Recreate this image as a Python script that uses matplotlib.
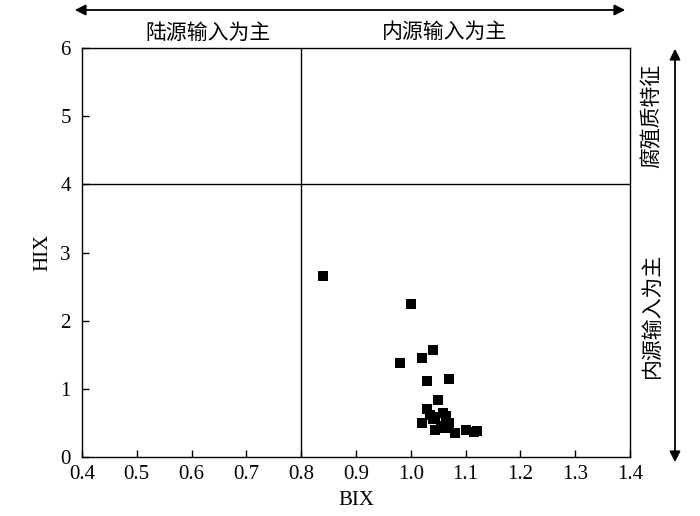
import matplotlib
matplotlib.use("Agg")
import matplotlib.pyplot as plt

bix = [0.84, 1.00, 0.98, 1.02, 1.04, 1.03, 1.07, 1.05,
       1.03, 1.035, 1.045, 1.059, 1.02, 1.04, 1.07, 1.044, 1.062,
       1.08, 1.10, 1.12, 1.055, 1.065, 1.115]
hix = [2.65, 2.24, 1.38, 1.45, 1.57, 1.11, 1.14, 0.84,
       0.70, 0.62, 0.58, 0.65, 0.50, 0.56, 0.50, 0.40, 0.42,
       0.35, 0.40, 0.38, 0.45, 0.60, 0.36]

xticks = [0.4, 0.5, 0.6, 0.7, 0.8, 0.9, 1.0, 1.1, 1.2, 1.3, 1.4]
yticks = [0, 1, 2, 3, 4, 5, 6]

serif = ['Liberation Serif', 'DejaVu Serif']
cjk = ['Noto Sans CJK SC', 'DejaVu Sans']

fig = plt.figure(figsize=(7.0, 5.16), dpi=100)
ax = fig.add_axes([82/700, 1-457/516, (630-82)/700, (457-48)/516])
ax.scatter(bix, hix, marker='s', s=60, color='black', linewidths=0, zorder=3)
ax.axvline(0.8, color='black', lw=1)
ax.axhline(4, color='black', lw=1)
ax.set_xlim(0.4, 1.4)
ax.set_ylim(0, 6)
ax.set_xticks(xticks)
ax.set_xticklabels([f"{v:.1f}" for v in xticks], family=serif, fontsize=15)
ax.set_yticks(yticks)
ax.set_yticklabels([str(v) for v in yticks], family=serif, fontsize=15)
ax.tick_params(axis='x', direction='in', length=5, width=1, pad=6)
ax.tick_params(axis='y', direction='in', length=5, width=1, pad=8)
for s in ax.spines.values():
    s.set_linewidth(1)
ax.set_xlabel('BIX', family=serif, fontsize=15, labelpad=5)
ax.set_ylabel('HIX', family=serif, fontsize=15, labelpad=6)

# top double arrow
fig.patches.append(matplotlib.patches.FancyArrowPatch(
    (72/700, 1-10/516), (628/700, 1-10/516), transform=fig.transFigure,
    arrowstyle='<|-|>', mutation_scale=16, color='black', lw=1.3))
# right double arrow
fig.patches.append(matplotlib.patches.FancyArrowPatch(
    (675/700, 1-46/516), (675/700, 1-465/516), transform=fig.transFigure,
    arrowstyle='<|-|>', mutation_scale=16, color='black', lw=1.3))

fig.text(208/700, 1-33/516, '陆源输入为主', family=cjk, fontsize=15, ha='center', va='center')
fig.text(445/700, 1-32/516, '内源输入为主', family=cjk, fontsize=15, ha='center', va='center')
fig.text(652/700, 1-116/516, '腐殖质特征', family=cjk, fontsize=15, ha='center', va='center', rotation=90)
fig.text(652/700, 1-315/516, '内源输入为主', family=cjk, fontsize=15, ha='center', va='center', rotation=90)

fig.savefig('out.png', dpi=100)
